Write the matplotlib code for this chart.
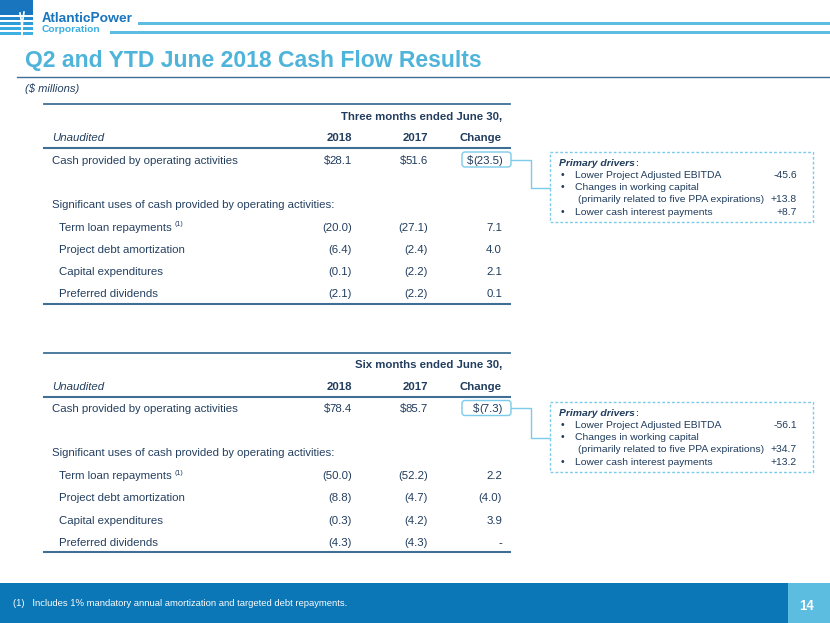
import matplotlib.pyplot as plt
from matplotlib.patches import Rectangle, FancyBboxPatch

plt.rcParams['font.family'] = ['Liberation Sans', 'DejaVu Sans']
plt.rcParams['text.hinting'] = 'native'
plt.rcParams['text.parse_math'] = False

# ---- data ----
title = "Q2 and YTD June 2018 Cash Flow Results"
units = "($ millions)"
col_years = ["2018", "2017", "Change"]
use_rows = ["Term loan repayments", "Project debt amortization",
            "Capital expenditures", "Preferred dividends"]

q2_header = "Three months ended June 30,"
q2_cash = [28.1, 51.6, -23.5]
q2_2018 = [-20.0, -6.4, -0.1, -2.1]
q2_2017 = [-27.1, -2.4, -2.2, -2.2]
q2_change = [7.1, 4.0, 2.1, 0.1]
q2_driver_values = ["-45.6", "+13.8", "+8.7"]

ytd_header = "Six months ended June 30,"
ytd_cash = [78.4, 85.7, -7.3]
ytd_2018 = [-50.0, -8.8, -0.3, -4.3]
ytd_2017 = [-52.2, -4.7, -4.2, -4.3]
ytd_change = [2.2, -4.0, 3.9, 0.0]
ytd_driver_values = ["-56.1", "+34.7", "+13.2"]

driver_lines = ["Lower Project Adjusted EBITDA",
                "Changes in working capital",
                "(primarily related to five PPA expirations)",
                "Lower cash interest payments"]
driver_bullets = [True, True, False, True]
driver_value_rows = [0, 2, 3]

footnote = "(1)   Includes 1% mandatory annual amortization and targeted debt repayments."
page_no = "14"

# ---- style ----
navy = '#213d5e'
rule = '#3f6f94'
title_blue = '#4fb4da'
box_blue = '#7ccbea'
band_blue = '#0b77b7'
light_blue = '#5dbde0'
logo_blue = '#1a75bf'


def fmt(v, dash_zero=False):
    if dash_zero and v == 0:
        return "-"
    s = f"{abs(v):.1f}"
    if v < 0:
        s = f"({s})"
    return s


fig = plt.figure(figsize=(8.3, 6.23), dpi=100)
ax = fig.add_axes([0, 0, 1, 1])
ax.set_xlim(0, 830)
ax.set_ylim(623, 0)
ax.axis('off')
renderer = fig.canvas.get_renderer()


def edges(t):
    bb = t.get_window_extent(renderer=renderer)
    inv = ax.transData.inverted()
    return inv.transform((bb.x0, bb.y0))[0], inv.transform((bb.x1, bb.y0))[0]


def txt(x, y, s, size, **kw):
    # y is the visual middle of the capitals; place on the baseline
    kw.setdefault('color', navy)
    return ax.text(x, y + 0.36 * size * 100 / 72, s, fontsize=size,
                   va='baseline', **kw)


# ---- logo ----
ax.add_patch(Rectangle((0, 0), 33, 15, color=logo_blue, lw=0))
for y0, c in [(17, '#2388cc'), (22, '#2d9dd8'), (27, '#38aae2'), (31.5, '#3fb0e4')]:
    ax.add_patch(Rectangle((0, y0), 33, 3, color=c, lw=0))
ax.plot([22, 22.5, 24], [34, 22, 12], color='white', lw=1.2)
ax.plot([22, 21.5, 20], [34, 22, 13], color='white', lw=1.2)
txt(42, 17, "AtlanticPower", 9.8, color=logo_blue, fontweight='bold', ha='left')
txt(42, 28.5, "Corporation", 7.4, color='#3aaee2', fontweight='bold', ha='left')
ax.add_patch(Rectangle((138, 21.5), 692, 3, color=light_blue, lw=0))
ax.add_patch(Rectangle((110, 30.5), 720, 3, color=light_blue, lw=0))

# ---- title ----
txt(25, 59, title, 16.5, color=title_blue, fontweight='bold', ha='left')
ax.plot([17, 830], [76.5, 76.5], color=rule, lw=1)
txt(25, 88, units, 8, style='italic', ha='left')

# ---- tables ----
col_x = [352, 428, 502]
fs = 8.2


def draw_table(top, header, cash, v18, v17, vch, dvals, box_top):
    ax.plot([44, 510], [top, top], color=rule, lw=1.3)
    txt(502, top + 11.5, header, fs, fontweight='bold', ha='right')
    yh = top + 33
    txt(52, yh, "Unaudited", fs, style='italic', ha='left')
    for x, lab in zip(col_x, col_years):
        txt(x, yh, lab, fs, fontweight='bold', ha='right')
    ax.plot([44, 510], [top + 44, top + 44], color=rule, lw=1.5)

    yc = top + 55.5
    txt(52, yc, "Cash provided by operating activities", fs, ha='left')
    for x, v in zip([col_x[0], col_x[1], col_x[2] + 1], cash):
        t = txt(x, yc, fmt(v), fs, ha='right')
        x0, _ = edges(t)
        txt(x0, yc, "$", fs, ha='right')
    ax.add_patch(FancyBboxPatch((462, yc - 7.5), 49, 15,
                                boxstyle="round,pad=0,rounding_size=3",
                                fc='none', ec=box_blue, lw=1))

    txt(52, top + 99.5, "Significant uses of cash provided by operating activities:",
        fs, ha='left')
    for i, lab in enumerate(use_rows):
        y = top + 122.5 + i * 22.2
        t = txt(59, y, lab, fs, ha='left')
        if i == 0:
            txt(edges(t)[1] + 3, y - 3, "(1)", 5.2, ha='left')
        txt(col_x[0], y, fmt(v18[i]), fs, ha='right')
        txt(col_x[1], y, fmt(v17[i]), fs, ha='right')
        txt(col_x[2], y, fmt(vch[i], dash_zero=True), fs, ha='right')
    ax.plot([44, 510], [top + 199.5, top + 199.5], color=rule, lw=1.5)

    # connector and drivers box
    ax.plot([511, 531, 531, 550], [yc, yc, box_top + 36, box_top + 36],
            color=box_blue, lw=1)
    ax.add_patch(Rectangle((550, box_top), 263, 70, fc='none', ec=box_blue,
                           lw=1, ls=(0, (2, 1.5))))
    dfs = 7.5
    t = txt(559, box_top + 10.5, "Primary drivers", dfs, fontweight='bold',
            style='italic', ha='left')
    txt(edges(t)[1], box_top + 10.5, ":", dfs, ha='left')
    ys = [box_top + 22, box_top + 34, box_top + 46.5, box_top + 59]
    for y, lab, bul in zip(ys, driver_lines, driver_bullets):
        if bul:
            txt(561, y, "\u2022", dfs, ha='left')
            txt(575, y, lab, dfs, ha='left')
        else:
            txt(578, y, lab, dfs, ha='left')
    for r, val in zip(driver_value_rows, dvals):
        txt(797, ys[r], val, dfs, ha='right')


draw_table(104, q2_header, q2_cash, q2_2018, q2_2017, q2_change,
           q2_driver_values, 152)
draw_table(352.5, ytd_header, ytd_cash, ytd_2018, ytd_2017, ytd_change,
           ytd_driver_values, 402)

# ---- footer ----
ax.add_patch(Rectangle((0, 583), 788, 40, color=band_blue, lw=0))
ax.add_patch(Rectangle((788, 583), 42, 40, color=light_blue, lw=0))
txt(13, 603, footnote, 6.8, color='white', ha='left')
txt(807, 605, page_no, 9.5, color='white', fontweight='bold', ha='center')

fig.savefig('out.png', dpi=100)
